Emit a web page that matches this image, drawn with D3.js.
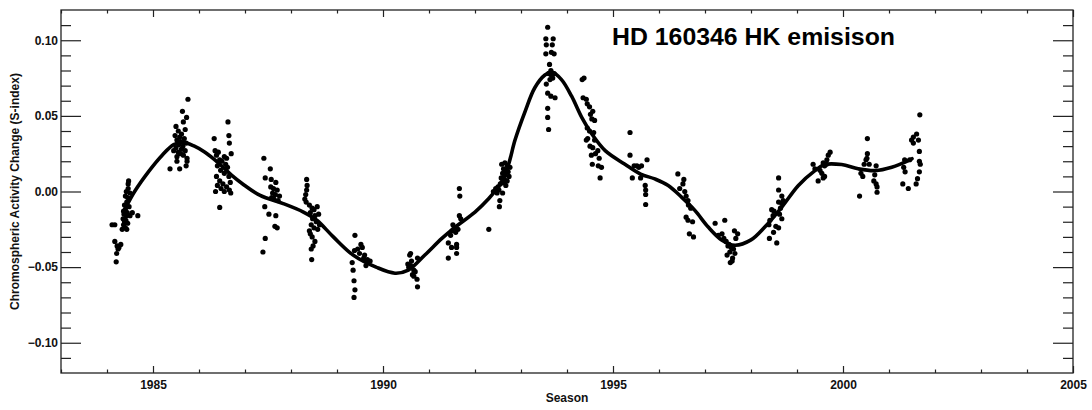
<!DOCTYPE html>
<html>
<head>
<meta charset="utf-8">
<script src="https://cdn.jsdelivr.net/npm/d3@7"></script>
<style>
  html, body { margin: 0; padding: 0; background: #fff; }
  svg { display: block; }
  text { font-family: "Liberation Sans", Arial, Helvetica, sans-serif; }
</style>
</head>
<body>
<svg id="chart" width="1092" height="410"></svg>
<script>
// ---------------- data ----------------
const chartTitle = "HD 160346 HK emisison";
const xTitle = "Season";
const yTitle = "Chromospheric Activity Change (S-index)";
const xDomain = [1983, 2005];
const yDomain = [-0.12, 0.12];
const xMajorTicks = [1985, 1990, 1995, 2000, 2005];
const yMajorTicks = [-0.10, -0.05, 0.00, 0.05, 0.10];

// observed seasonal S-index changes (year, value)
const obsYear = [
  // 1984
  1984.11,1984.17,1984.17,1984.22,1984.24,1984.21,1984.30,1984.26,1984.20,
  1984.47,1984.46,1984.46,1984.42,1984.50,1984.40,1984.45,1984.43,1984.38,1984.48,1984.40,1984.36,1984.44,1984.37,1984.42,1984.50,1984.35,1984.41,1984.38,1984.45,1984.36,1984.40,1984.33,1984.43,1984.67,1984.55,
  // 1985
  1985.76,1985.64,1985.73,1985.66,1985.50,1985.70,1985.55,1985.62,1985.48,1985.58,1985.68,1985.52,1985.60,1985.72,1985.56,1985.65,1985.50,1985.62,1985.70,1985.55,1985.60,1985.66,1985.52,1985.74,1985.52,1985.74,1985.37,1985.58,1985.72,1985.45,
  // 1986
  1986.63,1986.33,1986.65,1986.66,1986.35,1986.42,1986.70,1986.38,1986.55,1986.60,1986.45,1986.50,1986.58,1986.40,1986.62,1986.47,1986.55,1986.38,1986.65,1986.45,1986.52,1986.40,1986.60,1986.48,1986.36,1986.55,1986.66,1986.69,1986.45,1986.68,
  // 1987
  1987.41,1987.55,1987.44,1987.57,1987.67,1987.56,1987.62,1987.70,1987.60,1987.66,1987.75,1987.63,1987.72,1987.58,1987.43,1987.52,1987.67,1987.65,1987.70,1987.44,1987.39,
  // 1988
  1988.34,1988.35,1988.34,1988.32,1988.30,1988.33,1988.40,1988.46,1988.50,1988.57,1988.42,1988.52,1988.60,1988.47,1988.55,1988.44,1988.50,1988.58,1988.62,1988.42,1988.46,1988.52,1988.48,1988.44,1988.45,1988.40,
  // 1989
  1989.39,1989.52,1989.55,1989.45,1989.38,1989.49,1989.60,1989.66,1989.63,1989.72,1989.33,1989.35,1989.37,1989.39,1989.37,1989.58,
  // 1990
  1990.60,1990.58,1990.75,1990.54,1990.60,1990.56,1990.67,1990.70,1990.64,1990.67,1990.74,1990.75,1990.62,
  // 1991
  1991.66,1991.67,1991.66,1991.69,1991.52,1991.55,1991.63,1991.58,1991.47,1991.42,1991.49,1991.60,1991.60,1991.60,1991.42,1991.50,1992.30,
  // 1992
  1992.65,1992.58,1992.70,1992.76,1992.62,1992.68,1992.72,1992.60,1992.66,1992.74,1992.57,1992.64,1992.70,1992.62,1992.55,1992.67,1992.50,1992.45,1992.52,1992.48,1992.60,1992.54,1992.53,1992.40,
  // 1993
  1993.58,1993.54,1993.70,1993.55,1993.68,1993.54,1993.72,1993.66,1993.62,1993.65,1993.66,1993.69,1993.63,1993.55,1993.58,1993.65,1993.74,1993.58,1993.58,1993.60,1993.72,1993.60,
  // 1994
  1994.37,1994.33,1994.35,1994.42,1994.44,1994.49,1994.56,1994.51,1994.54,1994.60,1994.44,1994.49,1994.58,1994.45,1994.42,1994.60,1994.56,1994.62,1994.53,1994.67,1994.70,1994.55,1994.68,1994.75,1994.72,1994.50,
  // 1995
  1995.37,1995.37,1995.46,1995.56,1995.62,1995.52,1995.74,1995.60,1995.42,1995.70,1995.71,1995.71,1995.71,
  // 1996
  1996.41,1996.54,1996.52,1996.45,1996.56,1996.59,1996.63,1996.64,1996.69,1996.59,1996.63,1996.73,1996.66,1996.75,
  // 1997
  1997.22,1997.43,1997.29,1997.37,1997.41,1997.46,1997.64,1997.71,1997.67,1997.50,1997.57,1997.54,1997.65,1997.48,1997.60,1997.59,1997.55,1997.52,1997.62,
  // 1998
  1998.60,1998.60,1998.67,1998.60,1998.67,1998.70,1998.64,1998.50,1998.48,1998.62,1998.67,1998.41,1998.39,1998.54,1998.60,1998.49,1998.40,1998.56,1998.45,
  // 1999
  1999.72,1999.68,1999.35,1999.39,1999.57,1999.60,1999.64,1999.54,1999.60,1999.57,1999.46,1999.65,1999.50,
  // 2000
  2000.53,2000.53,2000.52,2000.50,2000.46,2000.57,2000.72,2000.39,2000.43,2000.69,2000.67,2000.72,2000.74,2000.74,2000.36,
  // 2001
  2001.67,2001.60,2001.53,2001.49,2001.53,2001.64,2001.66,2001.34,2001.45,2001.66,2001.68,2001.32,2001.35,2001.66,2001.62,2001.59,2001.30,2001.42
];
const obsSindex = [
  // 1984
  -0.022,-0.022,-0.033,-0.036,-0.038,-0.041,-0.035,-0.037,-0.0465,
  0.007,0.005,0.002,0.000,-0.001,-0.003,-0.004,-0.007,-0.009,-0.010,-0.012,-0.013,-0.014,-0.015,-0.016,-0.016,-0.018,-0.019,-0.020,-0.021,-0.022,-0.024,-0.025,-0.025,-0.016,-0.014,
  // 1985
  0.061,0.053,0.049,0.046,0.043,0.041,0.040,0.038,0.037,0.036,0.035,0.034,0.033,0.032,0.031,0.030,0.029,0.028,0.027,0.026,0.025,0.024,0.023,0.022,0.020,0.020,0.015,0.015,0.017,0.027,
  // 1986
  0.046,0.035,0.037,0.032,0.027,0.026,0.025,0.024,0.023,0.022,0.021,0.020,0.018,0.017,0.016,0.014,0.012,0.010,0.010,0.007,0.005,0.004,0.003,0.002,0.000,0.000,0.001,-0.001,-0.0105,0.006,
  // 1987
  0.022,0.015,0.009,0.008,0.006,0.003,0.002,0.001,-0.001,-0.002,-0.003,-0.005,-0.006,-0.004,-0.010,-0.015,-0.016,-0.023,-0.024,-0.031,-0.040,
  // 1988
  0.008,0.004,0.001,-0.002,-0.005,-0.007,-0.009,-0.011,-0.012,-0.010,-0.014,-0.016,-0.015,-0.018,-0.020,-0.022,-0.024,-0.025,-0.022,-0.028,-0.030,-0.033,-0.036,-0.038,-0.045,-0.026,
  // 1989
  -0.029,-0.035,-0.037,-0.038,-0.039,-0.041,-0.042,-0.045,-0.049,-0.046,-0.047,-0.052,-0.059,-0.065,-0.070,-0.044,
  // 1990
  -0.041,-0.042,-0.044,-0.048,-0.049,-0.050,-0.052,-0.053,-0.055,-0.056,-0.058,-0.063,-0.046,
  // 1991
  0.002,-0.003,-0.016,-0.018,-0.022,-0.024,-0.025,-0.027,-0.029,-0.034,-0.037,-0.037,-0.035,-0.041,-0.044,-0.026,-0.025,
  // 1992
  0.019,0.018,0.017,0.016,0.015,0.014,0.013,0.012,0.011,0.010,0.009,0.008,0.007,0.006,0.005,0.004,0.003,0.002,0.001,-0.001,-0.001,-0.006,-0.010,0.000,
  // 1993
  0.1086,0.101,0.101,0.097,0.097,0.091,0.091,0.092,0.084,0.080,0.077,0.075,0.074,0.071,0.065,0.063,0.062,0.055,0.049,0.041,0.078,0.078,
  // 1994
  0.075,0.074,0.062,0.061,0.058,0.056,0.053,0.051,0.048,0.047,0.042,0.040,0.039,0.035,0.034,0.034,0.029,0.025,0.024,0.027,0.022,0.018,0.017,0.016,0.009,0.030,
  // 1995
  0.039,0.024,0.017,0.016,0.017,0.017,0.021,0.009,0.009,0.004,0.001,-0.002,-0.0086,
  // 1996
  0.0116,0.008,0.005,0.002,0.000,-0.003,-0.006,-0.009,-0.011,-0.017,-0.019,-0.020,-0.028,-0.030,
  // 1997
  -0.021,-0.019,-0.029,-0.028,-0.031,-0.033,-0.026,-0.028,-0.031,-0.036,-0.037,-0.040,-0.041,-0.042,-0.044,-0.046,-0.047,-0.035,-0.038,
  // 1998
  0.009,0.001,-0.003,-0.007,-0.008,-0.006,-0.011,-0.013,-0.016,-0.015,-0.018,-0.019,-0.022,-0.023,-0.024,-0.027,-0.031,-0.034,-0.012,
  // 1999
  0.026,0.024,0.018,0.015,0.019,0.017,0.018,0.012,0.010,0.009,0.007,0.021,0.014,
  // 2000
  0.035,0.025,0.022,0.021,0.018,0.018,0.017,0.012,0.010,0.011,0.007,0.005,0.003,-0.0005,-0.003,
  // 2001
  0.0507,0.038,0.036,0.034,0.032,0.034,0.0265,0.021,0.021,0.020,0.018,0.016,0.013,0.013,0.0085,0.005,0.005,0.002
];

// smooth fitted activity curve
const fitYear = [1984.40,1984.60,1984.90,1985.20,1985.45,1985.66,1985.90,1986.13,1986.42,1986.70,1986.95,1987.33,1987.83,1988.27,1988.56,1988.92,1989.35,1989.85,1990.26,1990.55,1990.91,1991.28,1991.57,1992.00,1992.29,1992.55,1992.72,1992.87,1993.09,1993.30,1993.52,1993.67,1993.88,1994.10,1994.32,1994.54,1994.83,1995.26,1995.60,1995.91,1996.20,1996.49,1996.78,1997.07,1997.36,1997.65,1998.00,1998.30,1998.67,1999.03,1999.39,1999.60,1999.97,2000.33,2000.70,2001.06,2001.42,2001.50];
const fitSindex = [-0.011,0.000,0.013,0.024,0.031,0.0325,0.030,0.026,0.019,0.011,0.005,-0.0026,-0.008,-0.0136,-0.019,-0.030,-0.042,-0.050,-0.054,-0.052,-0.042,-0.031,-0.0235,-0.0136,-0.005,0.005,0.017,0.034,0.053,0.0686,0.077,0.079,0.074,0.063,0.049,0.038,0.027,0.018,0.0115,0.0083,0.004,-0.0037,-0.0125,-0.0235,-0.032,-0.0355,-0.032,-0.0235,-0.0103,0.004,0.0138,0.0178,0.0178,0.015,0.0138,0.016,0.0204,0.0217];

// ---------------- drawing ----------------
const W = 1092, H = 410;
const plot = { left: 61, right: 1073, top: 10, bottom: 373 };
const axisColor = "#222";

const svg = d3.select("#chart");
const x = d3.scaleLinear().domain(xDomain).range([plot.left, plot.right]);
const y = d3.scaleLinear().domain(yDomain).range([plot.bottom, plot.top]);

const xMinor = d3.range(xDomain[0], xDomain[1] + 1).filter(v => !xMajorTicks.includes(v));
const yMinor = d3.range(-11, 12).map(v => v / 100).filter(v => !yMajorTicks.some(m => Math.abs(m - v) < 1e-9));

function styleAxis(g) {
  g.select(".domain").remove();
  g.selectAll(".tick line").attr("stroke", axisColor).attr("stroke-width", 1.2);
  g.selectAll(".tick text").attr("fill", "#111").attr("font-size", 12).attr("font-weight", "bold")
    .attr("font-family", '"Liberation Sans", Arial, Helvetica, sans-serif');
}

// bottom axis
svg.append("g").attr("transform", `translate(0,${plot.bottom})`)
  .call(d3.axisBottom(x).tickValues(xMajorTicks).tickSize(-7).tickPadding(7.5).tickFormat(d3.format("d")))
  .call(styleAxis);
svg.append("g").attr("transform", `translate(0,${plot.bottom})`)
  .call(d3.axisBottom(x).tickValues(xMinor).tickSize(-3.5).tickFormat(""))
  .call(styleAxis);
// top axis
svg.append("g").attr("transform", `translate(0,${plot.top})`)
  .call(d3.axisTop(x).tickValues(xMajorTicks).tickSize(-7).tickFormat(""))
  .call(styleAxis);
svg.append("g").attr("transform", `translate(0,${plot.top})`)
  .call(d3.axisTop(x).tickValues(xMinor).tickSize(-3.5).tickFormat(""))
  .call(styleAxis);
// left axis
svg.append("g").attr("transform", `translate(${plot.left},0)`)
  .call(d3.axisLeft(y).tickValues(yMajorTicks).tickSize(-20).tickPadding(3).tickFormat(d3.format(".2f")))
  .call(styleAxis);
svg.append("g").attr("transform", `translate(${plot.left},0)`)
  .call(d3.axisLeft(y).tickValues(yMinor).tickSize(-10).tickFormat(""))
  .call(styleAxis);
// right axis
svg.append("g").attr("transform", `translate(${plot.right},0)`)
  .call(d3.axisRight(y).tickValues(yMajorTicks).tickSize(-20).tickFormat(""))
  .call(styleAxis);
svg.append("g").attr("transform", `translate(${plot.right},0)`)
  .call(d3.axisRight(y).tickValues(yMinor).tickSize(-10).tickFormat(""))
  .call(styleAxis);

// frame
svg.append("rect")
  .attr("x", plot.left).attr("y", plot.top)
  .attr("width", plot.right - plot.left).attr("height", plot.bottom - plot.top)
  .attr("fill", "none").attr("stroke", axisColor).attr("stroke-width", 1.3);

// points
const obs = obsYear.map((yr, i) => ({ yr, s: obsSindex[i] }));
svg.append("g").selectAll("circle").data(obs).join("circle")
  .attr("cx", d => x(d.yr)).attr("cy", d => y(d.s)).attr("r", 2.6).attr("fill", "#000");

// fitted curve
const fit = fitYear.map((yr, i) => ({ yr, s: fitSindex[i] }));
svg.append("path").datum(fit)
  .attr("fill", "none").attr("stroke", "#000").attr("stroke-width", 3.6)
  .attr("stroke-linecap", "round").attr("stroke-linejoin", "round")
  .attr("d", d3.line().x(d => x(d.yr)).y(d => y(d.s)).curve(d3.curveCatmullRom.alpha(0.5)));

// titles
svg.append("text").attr("x", 612).attr("y", 45)
  .attr("font-size", 23).attr("font-weight", "bold").attr("fill", "#000")
  .attr("textLength", 283).attr("lengthAdjust", "spacingAndGlyphs")
  .text(chartTitle);

svg.append("text").attr("x", (plot.left + plot.right) / 2).attr("y", 402)
  .attr("text-anchor", "middle").attr("font-size", 12).attr("font-weight", "bold").attr("fill", "#111")
  .text(xTitle);

svg.append("text")
  .attr("transform", `translate(19,${(plot.top + plot.bottom) / 2}) rotate(-90)`)
  .attr("text-anchor", "middle").attr("font-size", 12).attr("font-weight", "bold").attr("fill", "#111")
  .text(yTitle);
</script>
</body>
</html>
